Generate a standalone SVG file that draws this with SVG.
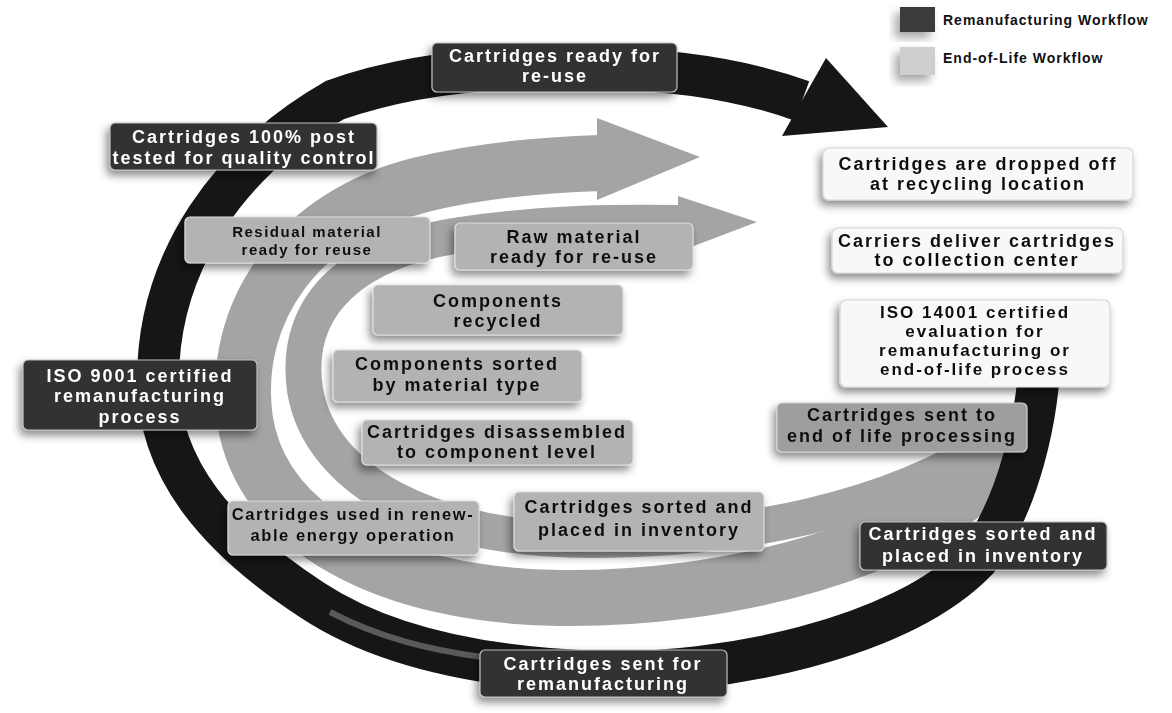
<svg xmlns="http://www.w3.org/2000/svg" width="1172" height="713" viewBox="0 0 1172 713">
<defs>
<filter id="sh" x="-20%" y="-30%" width="140%" height="170%">
<feDropShadow dx="-3" dy="5" stdDeviation="4" flood-color="#000" flood-opacity="0.45"/>
</filter>
<filter id="shl" x="-30%" y="-40%" width="160%" height="180%">
<feDropShadow dx="-5" dy="6" stdDeviation="5" flood-color="#000" flood-opacity="0.35"/>
</filter>
<style>
.dk{fill:#333333;stroke:#bdbdbd;stroke-width:1.2}
.gy{fill:#b3b3b3;stroke:#dcdcdc;stroke-width:1.2}
.gd{fill:#9e9e9e;stroke:#d0d0d0;stroke-width:1.2}
.wh{fill:#f8f8f8;stroke:#d6d6d6;stroke-width:1.2}
text{font-family:"Liberation Sans",Arial,sans-serif;font-weight:bold;text-anchor:middle;font-size:18px;letter-spacing:2px}
.tw{fill:#ffffff}
.tb{fill:#111111}
.lg{font-size:14px;letter-spacing:1px;text-anchor:start;fill:#111}
.ring{fill:none;stroke:#161616;stroke-width:42}
.band{fill:none;stroke:#a4a4a4}
</style>
</defs>
<rect width="1172" height="713" fill="#ffffff"/>

<g id="connectors">
<path class="band" stroke-width="56" d="M 1012 450 C 920 555, 720 600, 560 598 C 390 596, 262 530, 245 420 C 230 310, 300 215, 420 185 C 480 170, 540 165, 600 163"/>
<polygon fill="#a4a4a4" points="597,118 700,157 597,200"/>
<path class="band" stroke-width="36" d="M 995 440 C 890 510, 740 540, 590 540 C 430 540, 320 480, 305 390 C 292 300, 360 250, 460 235 C 550 222, 620 222, 682 223"/>
<polygon fill="#a4a4a4" points="678,196 757,222 678,252"/>
<path fill="none" stroke="#6e6e6e" stroke-width="7" d="M 318 612 C 370 640, 420 652, 480 662"/>
<path class="ring" d="M 1040 330 C 1042 420, 1015 510, 977 560 C 900 640, 720 675, 600 672 C 480 668, 380 645, 312 600 C 220 540, 158 470, 158 380 C 158 260, 230 160, 335 100 C 420 70, 520 65, 600 68 C 680 70, 750 82, 802 101"/>
<path fill="none" stroke="#5a5a5a" stroke-width="6" d="M 330 612 C 380 638, 430 650, 482 657"/>
<polygon fill="#161616" points="826,58 888,127 782,136"/>
</g>

<g id="legend">
<rect x="900" y="7" width="35" height="25" fill="#3a3a3a" filter="url(#shl)"/>
<text class="lg" x="943" y="25">Remanufacturing Workflow</text>
<rect x="900" y="47" width="35" height="28" fill="#cfcfcf" filter="url(#shl)"/>
<text class="lg" x="943" y="63">End-of-Life Workflow</text>
</g>

<g id="n-ready" filter="url(#sh)">
<rect class="dk" x="432" y="43" width="245" height="49" rx="5"/>
<text class="tw" x="555" y="62">Cartridges ready for</text>
<text class="tw" x="555" y="82">re-use</text>
</g>

<g id="n-post" filter="url(#sh)">
<rect class="dk" x="110" y="123" width="267" height="47" rx="5"/>
<text class="tw" x="244" y="143">Cartridges 100% post</text>
<text class="tw" x="244" y="164">tested for quality control</text>
</g>

<g id="n-residual" filter="url(#sh)">
<rect class="gy" x="185" y="217" width="245" height="46" rx="5"/>
<text class="tb" x="307" y="237" style="font-size:15px;letter-spacing:1.5px">Residual material</text>
<text class="tb" x="307" y="255" style="font-size:15px;letter-spacing:1.5px">ready for reuse</text>
</g>

<g id="n-raw" filter="url(#sh)">
<rect class="gy" x="455" y="223" width="238" height="47" rx="5"/>
<text class="tb" x="574" y="243">Raw material</text>
<text class="tb" x="574" y="263">ready for re-use</text>
</g>

<g id="n-recycled" filter="url(#sh)">
<rect class="gy" x="373" y="285" width="250" height="50" rx="5"/>
<text class="tb" x="498" y="307">Components</text>
<text class="tb" x="498" y="327">recycled</text>
</g>

<g id="n-sortedmat" filter="url(#sh)">
<rect class="gy" x="333" y="350" width="249" height="52" rx="5"/>
<text class="tb" x="457" y="370">Components sorted</text>
<text class="tb" x="457" y="391">by material type</text>
</g>

<g id="n-disassembled" filter="url(#sh)">
<rect class="gy" x="362" y="420" width="271" height="45" rx="5"/>
<text class="tb" x="497" y="438">Cartridges disassembled</text>
<text class="tb" x="497" y="458">to component level</text>
</g>

<g id="n-renew" filter="url(#sh)">
<rect class="gy" x="228" y="501" width="251" height="54" rx="5"/>
<text class="tb" x="353" y="520" style="font-size:16.5px;letter-spacing:1.6px">Cartridges used in renew-</text>
<text class="tb" x="353" y="541" style="font-size:16.5px;letter-spacing:1.6px">able energy operation</text>
</g>

<g id="n-sorted-inner" filter="url(#sh)">
<rect class="gy" x="514" y="492" width="250" height="59" rx="5"/>
<text class="tb" x="639" y="513">Cartridges sorted and</text>
<text class="tb" x="639" y="536">placed in inventory</text>
</g>

<g id="n-dropped" filter="url(#sh)">
<rect class="wh" x="823" y="148" width="310" height="52" rx="6"/>
<text class="tb" x="978" y="170">Cartridges are dropped off</text>
<text class="tb" x="978" y="190">at recycling location</text>
</g>

<g id="n-carriers" filter="url(#sh)">
<rect class="wh" x="832" y="228" width="291" height="45" rx="6"/>
<text class="tb" x="977" y="247">Carriers deliver cartridges</text>
<text class="tb" x="977" y="266">to collection center</text>
</g>

<g id="n-iso14001" filter="url(#sh)">
<rect class="wh" x="840" y="300" width="270" height="87" rx="6"/>
<text class="tb" x="975" y="318" style="font-size:17px">ISO 14001 certified</text>
<text class="tb" x="975" y="337" style="font-size:17px">evaluation for</text>
<text class="tb" x="975" y="356" style="font-size:17px">remanufacturing or</text>
<text class="tb" x="975" y="375" style="font-size:17px">end-of-life process</text>
</g>

<g id="n-eol" filter="url(#sh)">
<rect class="gd" x="777" y="403" width="250" height="49" rx="5"/>
<text class="tb" x="902" y="421">Cartridges sent to</text>
<text class="tb" x="902" y="442">end of life processing</text>
</g>

<g id="n-sorted-dark" filter="url(#sh)">
<rect class="dk" x="860" y="522" width="247" height="48" rx="5"/>
<text class="tw" x="983" y="540">Cartridges sorted and</text>
<text class="tw" x="983" y="562">placed in inventory</text>
</g>

<g id="n-iso9001" filter="url(#sh)">
<rect class="dk" x="23" y="360" width="234" height="70" rx="5"/>
<text class="tw" x="140" y="382">ISO 9001 certified</text>
<text class="tw" x="140" y="402">remanufacturing</text>
<text class="tw" x="140" y="423">process</text>
</g>

<g id="n-reman" filter="url(#sh)">
<rect class="dk" x="480" y="650" width="247" height="47" rx="5"/>
<text class="tw" x="603" y="670">Cartridges sent for</text>
<text class="tw" x="603" y="690">remanufacturing</text>
</g>
</svg>
